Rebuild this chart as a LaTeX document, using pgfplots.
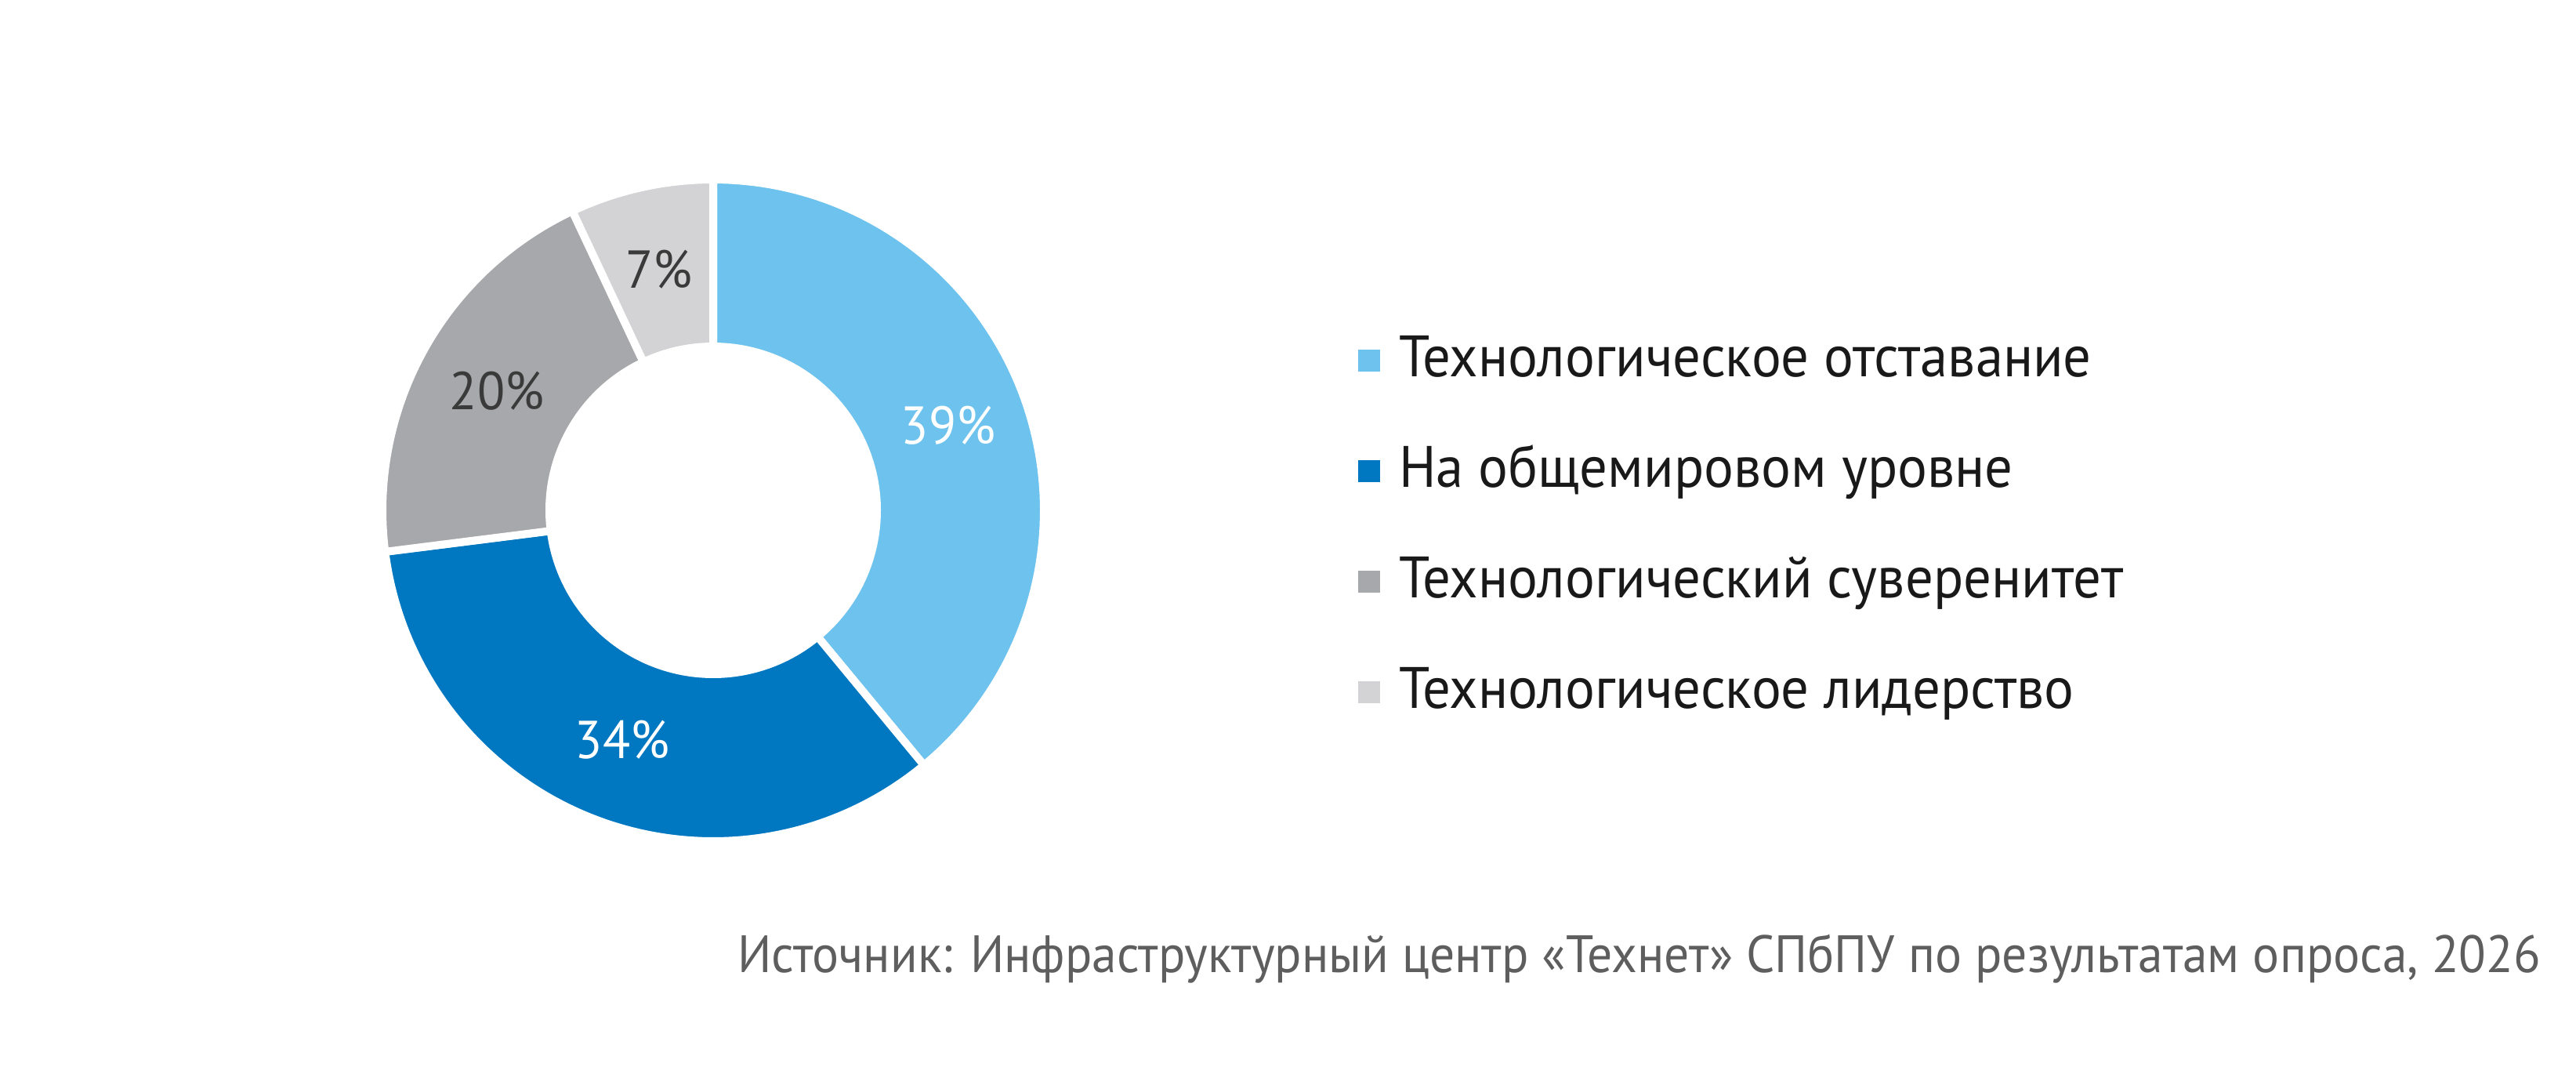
\documentclass[border=0pt]{standalone}
\usepackage{fontspec}
\setmainfont[FakeStretch=0.95]{PT Sans}
\usepackage{pgfplots}
\pgfplotsset{compat=1.18}
\definecolor{cA}{HTML}{6EC3EE}
\definecolor{cB}{HTML}{0078C1}
\definecolor{cC}{HTML}{A7A8AB}
\definecolor{cD}{HTML}{D3D3D5}
\definecolor{lbl}{HTML}{3A3A3A}
\definecolor{src}{HTML}{5E5E5E}
\begin{document}
\begin{tikzpicture}[
  declare function={
    dr(\u)=(\u<=1)*422+(\u>1)*(\u<2)*(422-213*(\u-1))+(\u>=2)*209;
    da(\u,\p,\q)=(\u<=2)*(\p+(\q-\p)*min(\u,1))+(\u>2)*(\q-(\q-\p)*(\u-2));
  }]
\begin{axis}[
  x=0.2pt, y=0.2pt, scale only axis,
  xmin=0, xmax=3287, ymin=0, ymax=1369,
  hide axis, clip=false,
  legend cell align=left,
  legend image code/.code={\path[#1, draw=none] (0pt,-2.8pt) rectangle (5.6pt,2.8pt);},
  legend style={draw=none, fill=none, inner sep=0pt, outer sep=0pt,
    at={(axis cs:1733,944)}, anchor=north west,
    row sep=14.2pt, font=\fontsize{14.9}{17}\selectfont, text=black!90,
    nodes={inner sep=0pt, text height=11pt, text depth=3pt},
    /tikz/every odd column/.append style={column sep=4.8pt}},
]
\path (axis cs:0,0) rectangle (axis cs:3287,1369);
\addplot[fill=cA, draw=white, line width=2pt, domain=0:3, samples=301, variable=\t]
  ({910+dr(\t)*cos(da(\t,90,90-3.6*39))},{718+dr(\t)*sin(da(\t,90,90-3.6*39))}) -- cycle;
\addlegendentry{Технологическое отставание}
\addplot[fill=cB, draw=white, line width=2pt, domain=0:3, samples=301, variable=\t]
  ({910+dr(\t)*cos(da(\t,90-3.6*39,90-3.6*(39+34)))},{718+dr(\t)*sin(da(\t,90-3.6*39,90-3.6*(39+34)))}) -- cycle;
\addlegendentry{На общемировом уровне}
\addplot[fill=cC, draw=white, line width=2pt, domain=0:3, samples=301, variable=\t]
  ({910+dr(\t)*cos(da(\t,90-3.6*73,90-3.6*(73+20)))},{718+dr(\t)*sin(da(\t,90-3.6*73,90-3.6*(73+20)))}) -- cycle;
\addlegendentry{Технологический суверенитет}
\addplot[fill=cD, draw=white, line width=2pt, domain=0:3, samples=301, variable=\t]
  ({910+dr(\t)*cos(da(\t,90-3.6*93,90-3.6*(93+7)))},{718+dr(\t)*sin(da(\t,90-3.6*93,90-3.6*(93+7)))}) -- cycle;
\addlegendentry{Технологическое лидерство}
\node[text=white, font=\fontsize{13.6}{16}\selectfont] at (axis cs:1210,826) {39\%};
\node[text=white, font=\fontsize{13.6}{16}\selectfont] at (axis cs:794,425) {34\%};
\node[text=lbl, font=\fontsize{13.6}{16}\selectfont] at (axis cs:634,870) {20\%};
\node[text=lbl, font=\fontsize{13.6}{16}\selectfont] at (axis cs:841,1025) {7\%};
\node[text=src, anchor=base east, inner sep=0pt, font=\fontsize{13.4}{16}\selectfont] at (axis cs:3243,129)
  {Источник: Инфраструктурный центр «Технет» СПбПУ по результатам опроса, 2026};
\end{axis}
\end{tikzpicture}
\end{document}
